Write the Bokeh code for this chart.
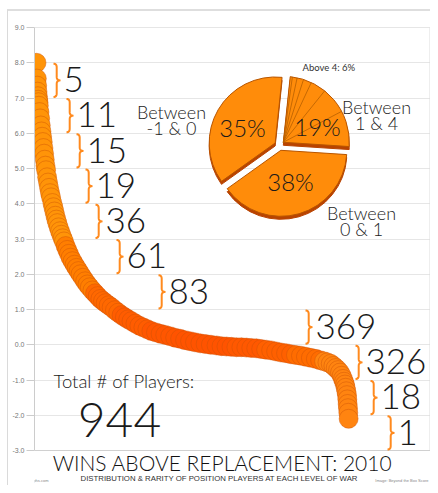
import math
from bokeh.plotting import figure
from bokeh.models import (Range1d, Label, FixedTicker, NumeralTickFormatter,
                          LinearColorMapper, ColumnDataSource)
from bokeh.core.properties import value
from bokeh.embed import file_html
from bokeh.resources import INLINE

# ---------------- data ----------------
rank = [1, 2, 3, 4, 5, 6, 7, 8, 10, 12, 14, 16, 18, 20, 22, 24, 26, 28, 30,
        33, 36, 39, 42, 45, 49, 52, 55, 58, 61, 64, 68, 72, 76, 80, 84,
        89, 94, 99, 104, 110, 116, 122, 128, 134, 141, 148, 155, 162, 170,
        178, 186, 194, 202, 210, 219, 228, 238, 248, 258, 268, 278, 288,
        300, 312, 324, 336, 348, 362, 376, 390, 405, 420, 435, 450, 465, 480,
        496, 512, 528, 545, 560, 575, 590, 605, 620, 635, 650, 665, 680, 695,
        710, 725, 740, 755, 770, 785, 800, 815, 830, 845, 858, 870, 880, 890,
        898, 905, 912, 918, 923, 927, 930, 933, 935, 937, 939, 940, 941, 942,
        943, 944]
war = [8.0, 7.55, 7.35, 7.18, 7.05, 6.95, 6.88, 6.78, 6.6, 6.42, 6.22, 6.05,
       5.9, 5.75, 5.58, 5.42, 5.25, 5.08, 4.95, 4.75, 4.6, 4.45, 4.3, 4.18,
       4.02, 3.9, 3.78, 3.66, 3.55, 3.45, 3.33, 3.22, 3.12, 3.02, 2.93, 2.8,
       2.69, 2.58, 2.47, 2.37, 2.27, 2.18, 2.09, 2.0, 1.9, 1.8, 1.71, 1.63,
       1.54, 1.46, 1.38, 1.3, 1.24, 1.18, 1.12, 1.06, 0.98, 0.91, 0.84, 0.78,
       0.72, 0.67, 0.6, 0.54, 0.49, 0.44, 0.39, 0.35, 0.31, 0.28, 0.24, 0.2,
       0.17, 0.13, 0.1, 0.07, 0.04, 0.02, 0.0, -0.02, -0.04, -0.05, -0.06,
       -0.07, -0.07, -0.08, -0.09, -0.1, -0.12, -0.14, -0.16, -0.19, -0.22,
       -0.24, -0.27, -0.29, -0.31, -0.34, -0.37, -0.4, -0.44, -0.47, -0.5,
       -0.54, -0.6, -0.66, -0.72, -0.79, -0.88, -0.97, -1.05, -1.13, -1.22,
       -1.32, -1.43, -1.55, -1.68, -1.8, -1.93, -2.1]

bin_low = [7, 6, 5, 4, 3, 2, 1, 0, -1, -2, -3]
bin_count = [5, 11, 15, 19, 36, 61, 83, 369, 326, 18, 1]
bin_group = [0, 0, 0, 0, 0, 0, 0, 1, 2, 2, 2]   # pie group of each bin

pie_pct = ["19%", "38%", "35%"]
pie_small_label = "Above 4: 6%"
pie_names = [("Between", "1 & 4"), ("Between", "0 & 1"), ("Between", "-1 & 0")]
y_ticks = [-3, -2, -1, 0, 1, 2, 3, 4, 5, 6, 7, 8, 9]

title_text = "WINS ABOVE REPLACEMENT: 2010"
subtitle_text = "DISTRIBUTION & RARITY OF POSITION PLAYERS AT EACH LEVEL OF WAR"
total_label = "Total # of Players:"

# ---------------- layout helpers (canvas pixel coordinates) ----------------
W, H = 430, 485
FL, FT, FR, FB = 34, 20, 430, 485          # frame edges on the canvas
PXU = 35.25                                # px per WAR unit, 9.0 sits at y=27
PXR = 0.331                                # px per player rank, rank 1 at x=36
Y1 = 9 + (27 - FT) / PXU
Y0 = 9 - (FB - 27) / PXU
X0 = 1 - (36 - FL) / PXR
X1 = X0 + (FR - FL) / PXR
KB = 0.37                                  # baseline correction (em)


def px2x(px):
    return X0 + (px - FL) / PXR


def py2y(py):
    return 9 - (py - 27) / PXU


def y2py(v):
    return 27 + (9 - v) * PXU


NUM_FONT = "Lato Light"
TXT_FONT = "Lato"
SANS = "Liberation Sans"

p = figure(width=W, height=H, x_range=Range1d(X0, X1), y_range=Range1d(Y0, Y1),
           output_backend="svg", toolbar_location=None, x_axis_location=None,
           min_border_left=FL, min_border_right=0,
           min_border_top=FT, min_border_bottom=0)
p.border_fill_color = None
p.background_fill_color = "white"
p.outline_line_color = None
p.styles = {"background":
            "linear-gradient(#dadada,#dadada) 7px 10px / 1px 480px no-repeat,"
            "linear-gradient(#dedede,#dedede) 7px 9px / 430px 2px no-repeat, white"}
p.xgrid.visible = False
p.yaxis.ticker = FixedTicker(ticks=y_ticks)
p.yaxis.bounds = (-3, 9)
p.ygrid.ticker = FixedTicker(ticks=y_ticks)
p.yaxis.formatter = NumeralTickFormatter(format="0.0")
p.yaxis.major_label_text_font_size = "7px"
p.yaxis.major_label_text_color = "#777777"
p.yaxis.major_label_text_font = SANS
p.yaxis.major_tick_out = 8
p.yaxis.major_tick_in = 0
p.yaxis.major_tick_line_color = "#cccccc"
p.yaxis.minor_tick_line_color = None
p.yaxis.axis_line_color = "#cccccc"
p.yaxis.major_label_standoff = 2
p.ygrid.grid_line_color = "#e6e6e6"

# right edge and bottom of the chart box
p.segment([px2x(429.5)], [-3], [px2x(429.5)], [9], line_color="#dcdcdc", line_width=1)
p.segment([X0], [-3], [px2x(430)], [-3], line_color="#d0d0d0", line_width=1)

# ---------------- scatter of players ----------------
palette = ["#FF9408", "#FF7E00", "#FF6800", "#FF5C00", "#FF5600", "#FF5300",
           "#FF5300", "#FF5800", "#FF6000", "#FF6C00", "#FF8410"]
mapper = LinearColorMapper(palette=palette, low=0, high=944)
src = ColumnDataSource(dict(rank=rank, war=war))
p.scatter("rank", "war", source=src, size=19,
          fill_color={"field": "rank", "transform": mapper},
          line_color="#CC5208", line_width=0.8, line_alpha=0.55)

# ---------------- braces and counts ----------------
brace_left_px = [53, 66, 76, 85, 95, 116, 158, 305, 355, 370, 387]
NUM_SIZE = 35


def qbez(p0, c, p1, n=8):
    pts = []
    for k in range(n + 1):
        t = k / n
        pts.append(((1 - t) ** 2 * p0[0] + 2 * (1 - t) * t * c[0] + t * t * p1[0],
                    (1 - t) ** 2 * p0[1] + 2 * (1 - t) * t * c[1] + t * t * p1[1]))
    return pts


bxs, bys = [], []
tx, ty, tt = [], [], []
for lo, cnt, bl in zip(bin_low, bin_count, brace_left_px):
    top = y2py(lo + 1) + 1
    bot = y2py(lo) - 1
    mid = (top + bot) / 2
    xm = bl + 3.2
    pts = []
    pts += qbez((bl, top), (xm, top), (xm, top + 3.5))
    pts += qbez((xm, mid - 3.5), (xm, mid), (bl + 7, mid))
    pts += qbez((bl + 7, mid), (xm, mid), (xm, mid + 3.5))
    pts += qbez((xm, bot - 3.5), (xm, bot), (bl, bot))
    bxs.append([px2x(a) for a, b in pts])
    bys.append([py2y(b) for a, b in pts])
    tx.append(px2x(bl + 10))
    ty.append(py2y(y2py(lo) - 5.5 - KB * NUM_SIZE))
    tt.append(str(cnt))

p.multi_line(bxs, bys, line_color="#FF8A1E", line_width=2)
p.text(tx, ty, text=tt, text_font=value(NUM_FONT), text_font_size=f"{NUM_SIZE}px",
       text_baseline="alphabetic", text_align="left", text_color="#1a1a1a")

# ---------------- pie ----------------
PCX, PCY, PR, EXPL = 279, 145, 66, 5
START = 84.0
total = sum(bin_count)
ang = START
slices = []
for c in bin_count:
    sw = c / total * 360.0
    slices.append((ang - sw, ang))
    ang -= sw

groups = {}
for (a1, a0), g in zip(slices, bin_group):
    lo_, hi_ = groups.get(g, (a1, a0))
    groups[g] = (min(lo_, a1), max(hi_, a0))

for shift, col, lcol in [(3, "#B94300", "#B94300"), (0, "#FF8C0A", "#B85500")]:
    for g, (a1, a0) in groups.items():
        mid = math.radians((a0 + a1) / 2)
        cx = PCX + EXPL * math.cos(mid)
        cy = PCY - EXPL * math.sin(mid) + shift
        p.wedge(x=[px2x(cx)], y=[py2y(cy)], radius=PR, radius_units="screen",
                start_angle=math.radians(a1), end_angle=math.radians(a0),
                fill_color=col, line_color=lcol, line_width=1)

# separator rays inside the right group
g0 = groups[0]
gm = math.radians((g0[0] + g0[1]) / 2)
gcx = PCX + EXPL * math.cos(gm)
gcy = PCY - EXPL * math.sin(gm)
rx0, ry0, rx1, ry1 = [], [], [], []
for (a1, a0), g in zip(slices, bin_group):
    if g == 0 and a1 > g0[0] + 0.1:
        r = math.radians(a1)
        rx0.append(px2x(gcx)); ry0.append(py2y(gcy))
        rx1.append(px2x(gcx + PR * math.cos(r)))
        ry1.append(py2y(gcy - PR * math.sin(r)))
p.segment(rx0, ry0, rx1, ry1, line_color="#B86000", line_width=0.8)


def lab(text, px, py, size, font=TXT_FONT, color="#1a1a1a", align="left"):
    p.add_layout(Label(x=px2x(px), y=py2y(py - KB * size), text=text,
                       text_font=font, text_font_size=f"{size}px",
                       text_color=color, text_align=align,
                       text_baseline="alphabetic"))


# percentages on the pie
lab(pie_pct[0], 317, 135, 24, NUM_FONT, align="center")
lab(pie_pct[1], 290, 190, 24, NUM_FONT, align="center")
lab(pie_pct[2], 242, 136, 24, NUM_FONT, align="center")
lab(pie_small_label, 302, 71, 9.5, TXT_FONT, "#333333")

# pie names
for (l1, l2), (cx, b1, b2) in zip(pie_names, [(376, 113, 129), (361, 219, 235),
                                             (171, 118, 134)]):
    lab(l1, cx, b1, 18, NUM_FONT, "#222222", "center")
    lab(l2, cx, b2, 18, NUM_FONT, "#222222", "center")

# totals
lab(total_label, 53, 387, 18.5, NUM_FONT, "#1a1a1a")
lab(str(total), 119, 437, 48, NUM_FONT, "#1a1a1a", "center")

# titles
lab(title_text, 222, 470, 21, NUM_FONT, "#111111", "center")
lab(subtitle_text, 219, 481, 7.8, SANS, "#333333", "center")
lab("www.fangraphs.com", 12, 481, 4, SANS, "#888888")
lab("Image: Beyond the Box Score", 428, 481, 4, SANS, "#888888", "right")

open("out.html", "w").write(file_html(p, INLINE))
